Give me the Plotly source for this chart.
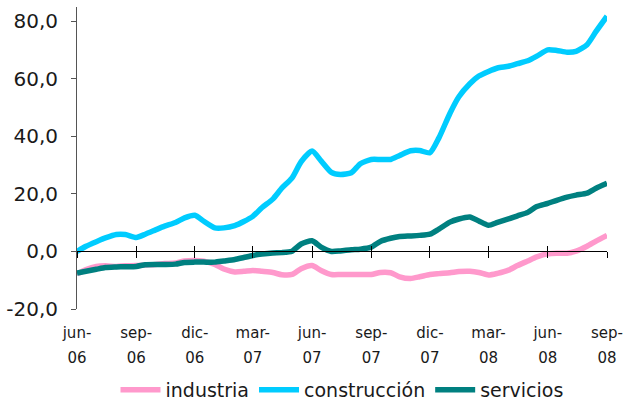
import pandas as pd
import plotly.graph_objects as go

# semi-monthly observations, jun-2006 .. sep-2008
fechas = pd.date_range("2006-06-01", "2008-09-01", freq="SMS")

construccion = [0.0, 1.8, 3.4, 4.7, 5.9, 5.9, 4.9, 6.0, 7.5, 8.8, 10.1, 11.7, 12.6, 10.5,
                8.2, 8.2, 9.0, 10.4, 12.2, 15.2, 18.2, 22.0, 25.6, 31.2, 34.9, 31.5, 27.5,
                26.8, 27.4, 30.5, 32.0, 32.0, 32.0, 33.4, 35.0, 35.1, 34.3, 39.5, 48.0, 53.8,
                58.3, 61.0, 62.6, 63.8, 64.4, 65.3, 66.3, 67.9, 70.1, 69.9, 69.3, 69.6, 71.9,
                76.5, 81.8]

servicios = [-7.5, -6.9, -6.2, -5.6, -5.4, -5.3, -5.2, -4.6, -4.5, -4.5, -4.4, -3.8, -3.7, -3.7,
             -3.7, -3.3, -2.8, -2.1, -1.4, -0.9, -0.5, -0.4, 0.1, 2.6, 3.7, 1.5, 0.0,
             0.2, 0.6, 0.8, 1.5, 3.5, 4.6, 5.2, 5.4, 5.6, 6.0, 7.8, 10.2, 11.3,
             12.0, 10.6, 9.1, 10.1, 11.3, 12.4, 13.6, 15.6, 16.7, 17.8, 18.9, 19.6, 20.3,
             22.0, 23.7]

industria = [-7.8, -6.3, -5.2, -5.0, -5.2, -5.0, -4.9, -4.7, -4.5, -4.2, -4.0, -3.3, -3.1, -3.4,
             -4.5, -6.1, -7.1, -6.9, -6.6, -6.9, -7.3, -8.1, -8.0, -6.0, -4.9, -6.6, -8.0,
             -8.0, -8.0, -8.0, -8.0, -7.3, -7.4, -8.8, -9.4, -8.8, -8.0, -7.7, -7.4, -7.0,
             -6.9, -7.3, -8.2, -7.6, -6.5, -4.9, -3.3, -1.9, -0.8, -0.6, -0.6, 0.1, 1.8,
             3.6, 5.6]

tick_fechas = ["2006-06-01", "2006-09-01", "2006-12-01", "2007-03-01", "2007-06-01",
               "2007-09-01", "2007-12-01", "2008-03-01", "2008-06-01", "2008-09-01"]
tick_meses = ["jun-", "sep-", "dic-", "mar-", "jun-", "sep-", "dic-", "mar-", "jun-", "sep-"]
tick_anios = ["06", "06", "06", "07", "07", "07", "07", "08", "08", "08"]

y_ticks = [-20, 0, 20, 40, 60, 80]
y_ticktext = ["-20,0", "0,0", "20,0", "40,0", "60,0", "80,0"]

FONT = "DejaVu Sans"
TXT = "#1a1a1a"

fig = go.Figure()
series = [("industria", industria, "#FF99CC"),
          ("construcción", construccion, "#00CCFF"),
          ("servicios", servicios, "#008080")]
for name, vals, col in series:
    fig.add_trace(go.Scatter(x=fechas, y=vals, name=name, mode="lines",
                             line=dict(color=col, width=5.5, shape="spline", smoothing=0.6)))

# helper traces for extra axes (year labels, crossing ticks on zero line)
for ax in ["x2", "x3", "x4"]:
    fig.add_trace(go.Scatter(x=[fechas[0], fechas[-1]], y=[None, None], xaxis=ax, yaxis="y",
                             showlegend=False, hoverinfo="skip", mode="lines"))

xrange = ["2006-06-01", "2008-09-01"]
yrange = [-20, 85]
zero_pos = (0 - yrange[0]) / (yrange[1] - yrange[0])

common_x = dict(type="date", range=xrange, tickmode="array", tickvals=tick_fechas,
                showgrid=False, zeroline=False, automargin=False)

fig.update_layout(
    width=624, height=403,
    margin=dict(l=77, r=17, t=7, b=94, autoexpand=False),
    paper_bgcolor="white", plot_bgcolor="white",
    font=dict(family=FONT, color=TXT),
    showlegend=True,
    legend=dict(orientation="h", x=0.5, xanchor="center", xref="paper",
                y=1 - 390 / 403, yanchor="middle", yref="container",
                font=dict(size=19, family=FONT, color=TXT), traceorder="normal",
                itemwidth=40, tracegroupgap=0),
    xaxis=dict(**common_x, ticktext=tick_meses, showline=False, ticks="",
               tickfont=dict(size=15, family=FONT, color=TXT), tickangle=0,
               ticklabelstandoff=13),
    xaxis2=dict(**common_x, overlaying="x", anchor="y", side="bottom",
                ticktext=tick_anios, showline=False, ticks="",
                tickfont=dict(size=15, family=FONT, color=TXT), tickangle=0,
                ticklabelstandoff=38),
    xaxis3=dict(**common_x, overlaying="x", anchor="free", position=zero_pos, side="bottom",
                showticklabels=False, showline=True, linecolor="black", linewidth=1,
                ticks="outside", ticklen=6, tickcolor="black", tickwidth=1),
    xaxis4=dict(**common_x, overlaying="x", anchor="free", position=zero_pos, side="bottom",
                showticklabels=False, showline=False,
                ticks="inside", ticklen=5, tickcolor="black", tickwidth=1),
    yaxis=dict(range=yrange, tickmode="array", tickvals=y_ticks, ticktext=y_ticktext,
               showgrid=False, zeroline=False, showline=True, linecolor="#555555", linewidth=1,
               ticks="outside", ticklen=5, tickcolor="#555555", tickwidth=1, automargin=False,
               ticklabelstandoff=9,
               tickfont=dict(size=20, family=FONT, color=TXT)),
)

fig.write_html("out.html", post_script="document.body.style.margin='0';",
               config={"displayModeBar": False})
